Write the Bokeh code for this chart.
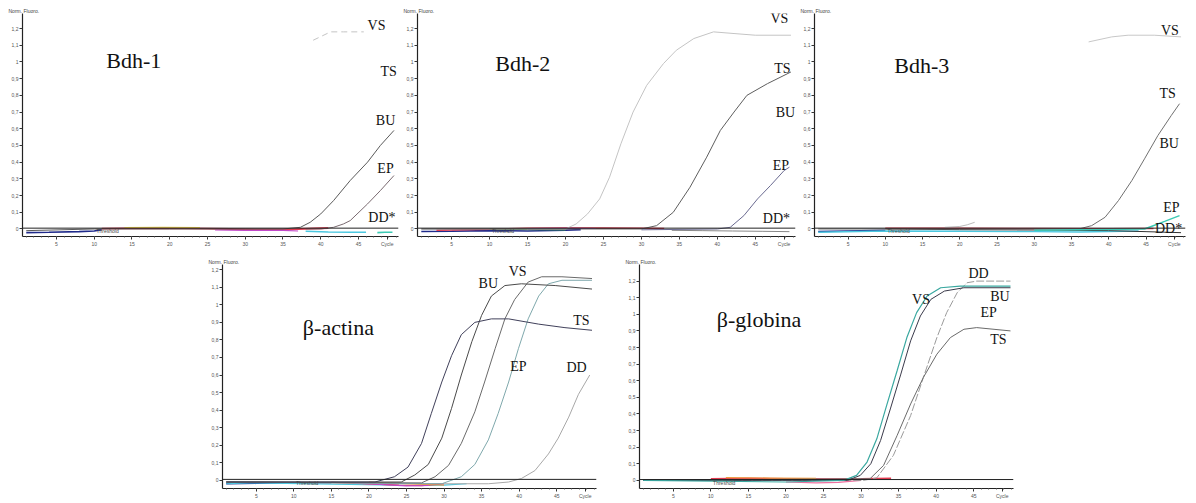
from bokeh.plotting import figure
from bokeh.layouts import column, row
from bokeh.models import Spacer, FixedTicker, Span, Label, Title
from bokeh.embed import file_html
from bokeh.resources import INLINE
from bokeh.core.properties import value

# ---------------- shared axis data ----------------
X_TICKS = [5, 10, 15, 20, 25, 30, 35, 40, 45]
X_MINOR = list(range(1, 51))
Y_TICKS = [0, 0.1, 0.2, 0.3, 0.4, 0.5, 0.6, 0.7, 0.8, 0.9, 1, 1.1, 1.2]
Y_TICK_LABELS = ["0", "0,1", "0,2", "0,3", "0,4", "0,5", "0,6", "0,7", "0,8", "0,9", "1", "1,1", "1,2"]
X_AXIS_NAME = "Cycle"
Y_AXIS_NAME = "Norm. Fluoro."
PANEL_TITLES = ["Bdh-1", "Bdh-2", "Bdh-3", "\u03b2-actina", "\u03b2-globina"]
THRESHOLD = 0.005

# ---------------- Bdh-1 ----------------
BDH1_VS_X = [39.0, 41.3, 43.0, 45.7]
BDH1_VS_Y = [1.13, 1.18, 1.18, 1.18]
BDH1_BU_X = [1, 10, 20, 30, 35, 37.3, 38.6, 40.0, 41.7, 43.9, 46.2, 47.9, 49.7]
BDH1_BU_Y = [-0.01, 0.0, 0.0, 0.0, 0.0, 0.01, 0.04, 0.09, 0.17, 0.29, 0.40, 0.50, 0.59]
BDH1_EP_X = [38, 40.0, 41.7, 43.0, 43.9, 46.2, 47.9, 49.7]
BDH1_EP_Y = [0.0, 0.0, 0.01, 0.03, 0.05, 0.15, 0.23, 0.32]
BDH1_NAVY_X = [1, 4, 8, 10, 11]
BDH1_NAVY_Y = [-0.022, -0.02, -0.016, -0.012, -0.004]
BDH1_RED_X = [11, 14, 18, 22, 25, 28, 33, 36, 39, 41]
BDH1_RED_Y = [0.002, 0.004, 0.005, 0.004, 0.002, 0.0, -0.003, -0.002, 0.003, 0.006]
BDH1_YELLOW_X = [14, 19, 24]
BDH1_YELLOW_Y = [0.009, 0.01, 0.008]
BDH1_MAGENTA_X = [26, 30, 35, 37]
BDH1_MAGENTA_Y = [-0.006, -0.008, -0.008, -0.012]
BDH1_CYAN_X = [38, 41, 44, 46]
BDH1_CYAN_Y = [-0.014, -0.018, -0.02, -0.02]
BDH1_TEAL_X = [47.5, 48.5, 49.5]
BDH1_TEAL_Y = [-0.022, -0.02, -0.02]

# ---------------- Bdh-2 ----------------
BDH2_VS_X = [1, 20, 21.4, 22.9, 24.5, 25.8, 27.3, 28.9, 30.7, 32.9, 34.6, 36.9, 39.5, 42.2, 45, 49.7]
BDH2_VS_Y = [0, 0, 0.03, 0.09, 0.18, 0.31, 0.51, 0.70, 0.86, 0.99, 1.07, 1.14, 1.18, 1.17, 1.16, 1.16]
BDH2_TS_X = [1, 30, 32, 34.2, 36.4, 38.6, 40.4, 42.2, 43.9, 46.6, 49.7]
BDH2_TS_Y = [0, 0.0, 0.02, 0.10, 0.25, 0.43, 0.59, 0.70, 0.80, 0.87, 0.94]
BDH2_EP_X = [30, 40, 41.7, 43.5, 45.3, 47.0, 48.8, 49.5]
BDH2_EP_Y = [-0.005, 0.0, 0.01, 0.08, 0.18, 0.26, 0.35, 0.37]
BDH2_NAVY_X = [1, 5, 10, 15, 20, 22]
BDH2_NAVY_Y = [-0.015, -0.014, -0.01, -0.012, -0.008, -0.004]
BDH2_RED_X = [3, 10, 15, 20, 25, 30, 33]
BDH2_RED_Y = [-0.008, -0.002, 0.004, 0.006, 0.005, 0.004, 0.003]
BDH2_GREEN_X = [10, 15, 20]
BDH2_GREEN_Y = [0.0, -0.004, -0.006]
BDH2_MAGENTA_X = [15, 20, 24]
BDH2_MAGENTA_Y = [0.002, 0.004, 0.003]
BDH2_GREY_X = [34, 38, 42, 46, 49.5]
BDH2_GREY_Y = [-0.008, -0.01, -0.012, -0.014, -0.016]

# ---------------- Bdh-3 ----------------
BDH3_VS_X = [37.3, 40.4, 42.6, 46.1, 49.7]
BDH3_VS_Y = [1.12, 1.15, 1.16, 1.16, 1.15]
BDH3_TS_X = [1, 36, 37.7, 39.5, 41.3, 43.1, 44.8, 46.6, 48.4, 49.5]
BDH3_TS_Y = [0, 0.0, 0.02, 0.07, 0.17, 0.29, 0.42, 0.56, 0.68, 0.75]
BDH3_EP_X = [30, 44.8, 45.7, 47.5, 49.5]
BDH3_EP_Y = [-0.008, 0.0, 0.015, 0.045, 0.08]
BDH3_BUMP_X = [18, 20, 21, 22]
BDH3_BUMP_Y = [0.01, 0.015, 0.025, 0.04]
BDH3_DARK_X = [10, 20, 30, 40, 45, 49.7]
BDH3_DARK_Y = [0.0, -0.004, -0.006, -0.01, -0.016, -0.022]
BDH3_NAVY_X = [1, 5, 10]
BDH3_NAVY_Y = [-0.015, -0.012, -0.008]
BDH3_RED_X = [10, 20, 30, 40, 46]
BDH3_RED_Y = [0.004, 0.004, 0.003, 0.002, 0.003]
BDH3_CYAN_X = [1, 10, 20, 30, 36, 44]
BDH3_CYAN_Y = [-0.02, -0.012, -0.014, -0.016, -0.018, -0.012]

# ---------------- beta-actina ----------------
ACT_TS_X = [1, 20.8, 23.4, 25.2, 27.0, 28.3, 29.7, 31.0, 32.3, 34.1, 36.3, 38.6, 42.6, 46.1, 49.7]
ACT_TS_Y = [-0.01, -0.01, 0.02, 0.075, 0.21, 0.38, 0.56, 0.71, 0.83, 0.90, 0.92, 0.92, 0.89, 0.87, 0.855]
ACT_BU_X = [1, 24.3, 26.1, 27.9, 29.7, 31.0, 32.3, 33.7, 35.0, 36.3, 38.1, 40.3, 44.8, 49.7]
ACT_BU_Y = [-0.01, -0.01, 0.03, 0.09, 0.24, 0.41, 0.60, 0.79, 0.94, 1.05, 1.11, 1.12, 1.11, 1.09]
ACT_VS_X = [1, 27.0, 28.8, 30.6, 32.3, 34.1, 35.4, 36.8, 38.1, 39.4, 41.2, 43.0, 45.7, 49.7]
ACT_VS_Y = [-0.01, -0.015, 0.02, 0.085, 0.21, 0.39, 0.56, 0.75, 0.92, 1.03, 1.13, 1.16, 1.16, 1.15]
ACT_EP_X = [1, 29.7, 32.3, 34.1, 35.9, 37.2, 38.6, 39.9, 41.2, 42.6, 43.9, 45.7, 49.7]
ACT_EP_Y = [-0.01, -0.02, 0.02, 0.09, 0.23, 0.38, 0.56, 0.75, 0.92, 1.05, 1.12, 1.14, 1.14]
ACT_DD_X = [1, 30, 35.9, 38.6, 40.3, 42.1, 43.9, 45.2, 46.6, 47.9, 49.4]
ACT_DD_Y = [-0.01, -0.02, -0.02, -0.01, 0.01, 0.055, 0.15, 0.24, 0.36, 0.49, 0.60]
ACT_NAVY_X = [1, 5, 10, 15]
ACT_NAVY_Y = [-0.02, -0.018, -0.015, -0.015]
ACT_RED_X = [15, 20, 24, 27, 30]
ACT_RED_Y = [-0.012, -0.02, -0.028, -0.03, -0.02]
ACT_MAGENTA_X = [18, 22, 25, 28]
ACT_MAGENTA_Y = [-0.015, -0.025, -0.032, -0.03]
ACT_CYAN_X = [1, 4, 26, 30, 33]
ACT_CYAN_Y = [-0.02, -0.015, -0.03, -0.028, -0.02]
ACT_ORANGE_X = [20, 25, 30]
ACT_ORANGE_Y = [-0.01, -0.02, -0.028]

# ---------------- beta-globina ----------------
GLO_VS_X = [1, 20, 27.7, 29.4, 30.8, 32.1, 33.4, 34.8, 36.1, 37.4, 38.8, 40.6, 43.2, 49.9]
GLO_VS_Y = [0, -0.01, 0.0, 0.03, 0.11, 0.25, 0.45, 0.66, 0.86, 1.01, 1.11, 1.16, 1.17, 1.17]
GLO_BU_X = [1, 28.2, 29.9, 31.3, 32.6, 33.9, 35.3, 36.6, 37.9, 39.3, 41.1, 43.7, 49.9]
GLO_BU_Y = [0, 0.0, 0.03, 0.10, 0.24, 0.43, 0.64, 0.84, 0.99, 1.09, 1.14, 1.16, 1.16]
GLO_DD_X = [1, 30.3, 32.1, 34.3, 36.6, 38.3, 40.1, 41.4, 42.8, 44.1, 45.4, 49.9]
GLO_DD_Y = [0, 0.0, 0.015, 0.15, 0.39, 0.62, 0.86, 1.01, 1.13, 1.19, 1.20, 1.20]
GLO_TS_X = [1, 31.2, 33.0, 34.8, 36.6, 38.3, 40.1, 41.9, 43.7, 45.4, 49.9]
GLO_TS_Y = [0, 0.01, 0.09, 0.27, 0.46, 0.62, 0.76, 0.86, 0.91, 0.92, 0.90]
GLO_NAVY_X = [1, 5, 10]
GLO_NAVY_Y = [0.002, 0.0, 0.002]
GLO_RED_X = [10, 15, 20, 25, 30, 34]
GLO_RED_Y = [0.01, 0.012, 0.01, 0.008, 0.01, 0.012]
GLO_ORANGE_X = [12, 18, 24]
GLO_ORANGE_Y = [0.016, 0.014, 0.012]
GLO_PINK_X = [20, 24, 27, 30]
GLO_PINK_Y = [-0.01, -0.015, -0.012, 0.0]

SERIF = value("Liberation Serif")
CYCLE_TICK = 48.8


def make_fig(width, height, left, right, top, bottom, y0, y1):
    p = figure(width=width, height=height, x_range=(0.5, 50.3), y_range=(y0, y1),
               output_backend="svg", toolbar_location=None,
               min_border_left=left, min_border_right=right,
               min_border_top=top, min_border_bottom=bottom)
    p.grid.visible = False
    p.outline_line_color = None
    p.background_fill_color = "white"
    p.border_fill_color = "white"
    p.xaxis.ticker = FixedTicker(ticks=X_TICKS + [CYCLE_TICK], minor_ticks=X_MINOR)
    p.xaxis.major_label_overrides = {CYCLE_TICK: X_AXIS_NAME}
    p.yaxis.ticker = FixedTicker(ticks=Y_TICKS)
    p.yaxis.major_label_overrides = {t: l for t, l in zip(Y_TICKS, Y_TICK_LABELS)}
    for ax in (p.xaxis, p.yaxis):
        ax.axis_line_color = "#222222"
        ax.axis_line_width = 1.2
        ax.major_tick_line_color = "#333333"
        ax.minor_tick_line_color = "#666666"
        ax.major_tick_out = 3
        ax.major_tick_in = 0
        ax.minor_tick_out = 1
        ax.minor_tick_in = 0
        ax.major_label_standoff = 1
        ax.major_label_text_font_size = "5px"
        ax.major_label_text_color = "#555555"
    p.yaxis.minor_tick_line_color = None
    p.add_layout(Title(text=Y_AXIS_NAME, text_font_size="5px", text_color="#444444",
                       text_font_style="normal", align="left", offset=-14, standoff=0), "above")
    p.add_layout(Span(location=THRESHOLD, dimension="width", line_color="#222222", line_width=1))
    p.add_layout(Label(x=10.3, y=-0.014, text="Threshold", text_font_size="5px",
                       text_color="#444444", text_baseline="middle"))
    return p


def curve(p, xs, ys, color, width=1.0, dash="solid", alpha=1.0):
    p.line(xs, ys, line_color=color, line_width=width, line_dash=dash, line_alpha=alpha)


def tag(p, x, y, txt, size="14px"):
    p.text(x=[x], y=[y], text=[txt], text_font=SERIF, text_font_size=size,
           text_color="#111111", text_align="left", text_baseline="middle")


# colours
NAVY = "#1f2a8a"
RED = "#e23a4f"
YELLOW = "#e6c84a"
MAGENTA = "#c04ac8"
CYAN = "#4cc8e0"
TEAL = "#3ccab4"
GREEN = "#3a9a50"
ORANGE = "#ee9a40"
PINK = "#ee70a0"

TOP_H = 249
BOT_H = 252
TITLE_SIZE = "22px"

# ---------- panel 1 ----------
p1 = make_fig(403, TOP_H, 22, 5, 13, 9, -0.045, 1.29)
curve(p1, BDH1_NAVY_X, BDH1_NAVY_Y, NAVY, 1.6)
curve(p1, BDH1_RED_X, BDH1_RED_Y, RED, 1.8)
curve(p1, BDH1_YELLOW_X, BDH1_YELLOW_Y, YELLOW, 1.2)
curve(p1, BDH1_MAGENTA_X, BDH1_MAGENTA_Y, MAGENTA, 1.2)
curve(p1, BDH1_CYAN_X, BDH1_CYAN_Y, CYAN, 1.6)
curve(p1, BDH1_TEAL_X, BDH1_TEAL_Y, TEAL, 1.6)
curve(p1, BDH1_VS_X, BDH1_VS_Y, "#c4c4c4", 1.0, "6 4")
curve(p1, BDH1_BU_X, BDH1_BU_Y, "#5a5a5a", 1.0)
curve(p1, BDH1_EP_X, BDH1_EP_Y, "#7a6a70", 1.0)
tag(p1, 11.6, 1.01, PANEL_TITLES[0], TITLE_SIZE)
tag(p1, 46.2, 1.22, "VS")
tag(p1, 47.9, 0.945, "TS")
tag(p1, 47.3, 0.65, "BU")
tag(p1, 47.5, 0.364, "EP")
tag(p1, 46.3, 0.07, "DD*")

# ---------- panel 2 ----------
p2 = make_fig(397, TOP_H, 14, 5, 13, 9, -0.045, 1.29)
curve(p2, BDH2_NAVY_X, BDH2_NAVY_Y, NAVY, 1.6)
curve(p2, BDH2_RED_X, BDH2_RED_Y, RED, 1.6)
curve(p2, BDH2_GREEN_X, BDH2_GREEN_Y, GREEN, 1.0)
curve(p2, BDH2_MAGENTA_X, BDH2_MAGENTA_Y, MAGENTA, 1.2)
curve(p2, BDH2_GREY_X, BDH2_GREY_Y, "#888888", 1.0)
curve(p2, BDH2_VS_X, BDH2_VS_Y, "#c4c4c4", 1.0)
curve(p2, BDH2_TS_X, BDH2_TS_Y, "#5e5e5e", 1.0)
curve(p2, BDH2_EP_X, BDH2_EP_Y, "#6a6a90", 1.0)
tag(p2, 10.75, 0.99, PANEL_TITLES[1], TITLE_SIZE)
tag(p2, 47.0, 1.26, "VS")
tag(p2, 47.5, 0.96, "TS")
tag(p2, 47.7, 0.70, "BU")
tag(p2, 47.3, 0.38, "EP")
tag(p2, 46.0, 0.06, "DD*")

# ---------- panel 3 ----------
p3 = make_fig(388, TOP_H, 13, 3, 13, 9, -0.045, 1.29)
curve(p3, BDH3_NAVY_X, BDH3_NAVY_Y, NAVY, 1.6)
curve(p3, BDH3_CYAN_X, BDH3_CYAN_Y, CYAN, 1.4)
curve(p3, BDH3_RED_X, BDH3_RED_Y, RED, 1.4)
curve(p3, BDH3_DARK_X, BDH3_DARK_Y, "#333333", 1.0)
curve(p3, BDH3_BUMP_X, BDH3_BUMP_Y, "#bbbbbb", 1.0)
curve(p3, BDH3_VS_X, BDH3_VS_Y, "#c8c8c8", 1.0)
curve(p3, BDH3_TS_X, BDH3_TS_Y, "#707070", 1.0)
curve(p3, BDH3_EP_X, BDH3_EP_Y, TEAL, 1.4)
tag(p3, 11.2, 0.98, PANEL_TITLES[2], TITLE_SIZE)
tag(p3, 47.0, 1.19, "VS")
tag(p3, 46.8, 0.81, "TS")
tag(p3, 46.8, 0.51, "BU")
tag(p3, 47.3, 0.13, "EP")
tag(p3, 46.2, 0.0, "DD*")

# ---------- panel 4 ----------
p4 = make_fig(392, BOT_H, 14, 4, 15, 9, -0.047, 1.23)
curve(p4, ACT_NAVY_X, ACT_NAVY_Y, NAVY, 1.4)
curve(p4, ACT_CYAN_X, ACT_CYAN_Y, CYAN, 1.2)
curve(p4, ACT_RED_X, ACT_RED_Y, RED, 1.4)
curve(p4, ACT_MAGENTA_X, ACT_MAGENTA_Y, MAGENTA, 1.2)
curve(p4, ACT_ORANGE_X, ACT_ORANGE_Y, ORANGE, 1.0)
curve(p4, ACT_DD_X, ACT_DD_Y, "#a8a8a8", 1.0)
curve(p4, ACT_EP_X, ACT_EP_Y, "#7fa8ac", 1.0)
curve(p4, ACT_VS_X, ACT_VS_Y, "#6a6a6a", 1.0)
curve(p4, ACT_BU_X, ACT_BU_Y, "#4a4a4a", 1.0)
curve(p4, ACT_TS_X, ACT_TS_Y, "#40405a", 1.0)
tag(p4, 11.2, 0.87, PANEL_TITLES[3], TITLE_SIZE)
tag(p4, 34.6, 1.12, "BU")
tag(p4, 38.6, 1.19, "VS")
tag(p4, 47.2, 0.91, "TS")
tag(p4, 38.8, 0.65, "EP")
tag(p4, 46.3, 0.64, "DD")

# ---------- panel 5 ----------
p5 = make_fig(392, BOT_H, 14, 4, 15, 9, -0.049, 1.30)
curve(p5, GLO_NAVY_X, GLO_NAVY_Y, NAVY, 1.4)
curve(p5, GLO_RED_X, GLO_RED_Y, RED, 1.6)
curve(p5, GLO_ORANGE_X, GLO_ORANGE_Y, ORANGE, 1.2)
curve(p5, GLO_PINK_X, GLO_PINK_Y, PINK, 1.2)
curve(p5, GLO_DD_X, GLO_DD_Y, "#9a9a9a", 1.0, "8 2")
curve(p5, GLO_TS_X, GLO_TS_Y, "#6a6a6a", 1.0)
curve(p5, GLO_BU_X, GLO_BU_Y, "#3a3a4a", 1.0)
curve(p5, GLO_VS_X, GLO_VS_Y, "#3aa8a0", 1.2)
tag(p5, 10.8, 0.97, PANEL_TITLES[4], TITLE_SIZE)
tag(p5, 44.3, 1.245, "DD")
tag(p5, 36.8, 1.09, "VS")
tag(p5, 47.2, 1.11, "BU")
tag(p5, 45.9, 1.01, "EP")
tag(p5, 47.2, 0.85, "TS")

layout = column(
    row(p1, p2, p3),
    row(Spacer(width=208, height=BOT_H), p4, Spacer(width=25, height=BOT_H), p5),
)

open("out.html", "w").write(file_html(layout, INLINE))
